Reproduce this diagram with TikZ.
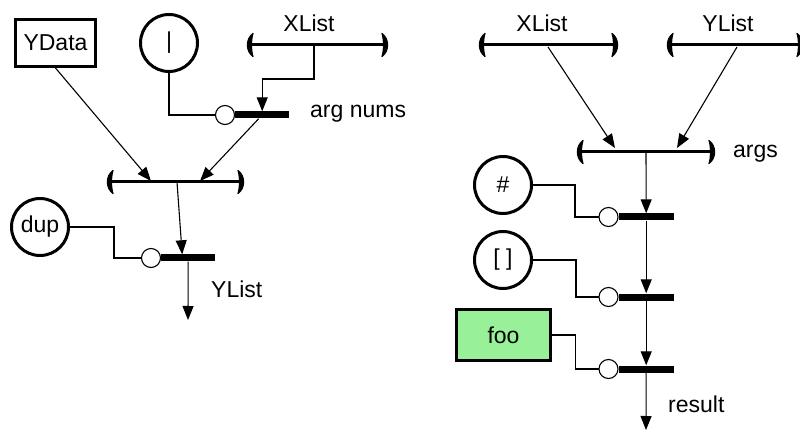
\documentclass[tikz,border=0pt]{standalone}
\usepackage{fontspec}
\setmainfont{Liberation Sans}
\usetikzlibrary{arrows.meta}
\definecolor{foogreen}{RGB}{152,240,152}
\newcommand\mybrk[3]{% x1, x2, y
  \draw[brline] (#1,#3) -- (#2,#3);
  \filldraw[line width=1.2pt, line join=round] (#1+5,#3-11.5) .. controls (#1-2.5,#3-6) and (#1-2.5,#3+6) .. (#1+5,#3+11.5)
     .. controls (#1+3,#3+6) and (#1+3,#3-6) .. (#1+5,#3-11.5) -- cycle;
  \filldraw[line width=1.2pt, line join=round] (#2-5,#3-11.5) .. controls (#2+2.5,#3-6) and (#2+2.5,#3+6) .. (#2-5,#3+11.5)
     .. controls (#2-3,#3+6) and (#2-3,#3-6) .. (#2-5,#3-11.5) -- cycle;
}
\begin{document}
\begin{tikzpicture}[x=1pt,y=-1pt,
  font=\fontsize{23}{27}\selectfont,
  conn/.style={line width=1.1pt, -{Triangle[length=14pt,width=11pt]}},
  wire/.style={line width=1.1pt},
  bigc/.style={circle, draw, line width=3pt, minimum size=57pt, inner sep=0pt},
  port/.style={circle, draw, line width=1.1pt, minimum size=19pt, inner sep=0pt, fill=white},
  bar/.style={rectangle, fill=black, minimum width=54pt, minimum height=7pt, inner sep=0pt},
  box/.style={rectangle, draw, line width=3pt, inner sep=0pt},
  brline/.style={line width=3pt},
  lbl/.style={inner sep=0pt}]
\useasboundingbox (0,0) rectangle (800,430);

% ---------- left diagram ----------
\mybrk{248}{387}{45}
\coordinate (br1m) at (314,45);
\mybrk{108}{243}{182}
\coordinate (br2a) at (151,181);
\coordinate (br2b) at (200,181);
\coordinate (br2m) at (177,182);

\node[lbl, anchor=base] (xl1) at (309,32) {XList};
\node[box, minimum width=80pt, minimum height=47pt] (ydata) at (55.5,43) {YData};
\node[bigc] (pipe) at (169,43) {|};
\node[bigc] (dup) at (40,227) {dup};

\node[bar, anchor=west] (b1) at (235,115) {};
\node[bar, anchor=west] (b2) at (161,258) {};
\draw[wire] (pipe.south) |- (225,115);
\draw[wire] (dup.east) -- ++(44,0) |- (151,258);
\node[port] (p1) at (225,115) {};
\node[port] (p2) at (151,258) {};

\node[lbl, anchor=base west] (argnums) at (310,118) {arg nums};
\node[lbl, anchor=base west] (ylist1) at (211,298) {YList};
\coordinate (out1) at (188,320);

\draw[conn] (ydata.south) -- (br2a);
\draw[conn] (br1m) -- ++(0,34) -| (b1.north);
\draw[conn] ([xshift=-3.5pt]b1.south) -- (br2b);
\draw[conn] (br2m) -- ([xshift=-6pt]b2.north);
\draw[conn] (b2) -- (out1);

% ---------- right diagram ----------
\mybrk{480}{617}{45}
\coordinate (xl2m) at (548,47);
\mybrk{668}{802}{45}
\coordinate (yl2m) at (737,47);
\mybrk{578}{714}{152}
\coordinate (argsm) at (646,152);
\coordinate (argsa) at (615,148);
\coordinate (argsb) at (677,148);

\node[lbl, anchor=base] (xl2) at (542,32) {XList};
\node[lbl, anchor=base] (yl2) at (728,32) {YList};
\node[lbl, anchor=base west] (args) at (733,158) {args};

\node[bigc] (hash) at (503,185) {\#};
\node[bigc] (nil) at (503,260) {[ ]};
\node[box, fill=foogreen, minimum width=94pt, minimum height=51pt] (foo) at (503.5,335) {foo};

\node[bar, anchor=west, minimum width=55pt] (r1) at (618.5,217) {};
\node[bar, anchor=west, minimum width=55pt] (r2) at (618.5,297) {};
\node[bar, anchor=west, minimum width=55pt] (r3) at (618.5,369) {};
\draw[wire] (hash.east) -- ++(42,0) |- (608.5,217);
\draw[wire] (nil.east) -- ++(43,0) |- (608.5,297);
\draw[wire] (foo.east) -- ++(23.5,0) |- (608.5,369);
\node[port] (q1) at (608.5,217) {};
\node[port] (q2) at (608.5,297) {};
\node[port] (q3) at (608.5,369) {};

\node[lbl, anchor=base west] (result) at (668,412) {result};
\coordinate (out2) at (646,430);

\draw[conn] (xl2m) -- (argsa);
\draw[conn] (yl2m) -- (argsb);
\draw[conn] (argsm) -- (r1.north);
\draw[conn] (r1) -- (r2);
\draw[conn] (r2) -- (r3);
\draw[conn] (r3) -- (out2);
\end{tikzpicture}
\end{document}
